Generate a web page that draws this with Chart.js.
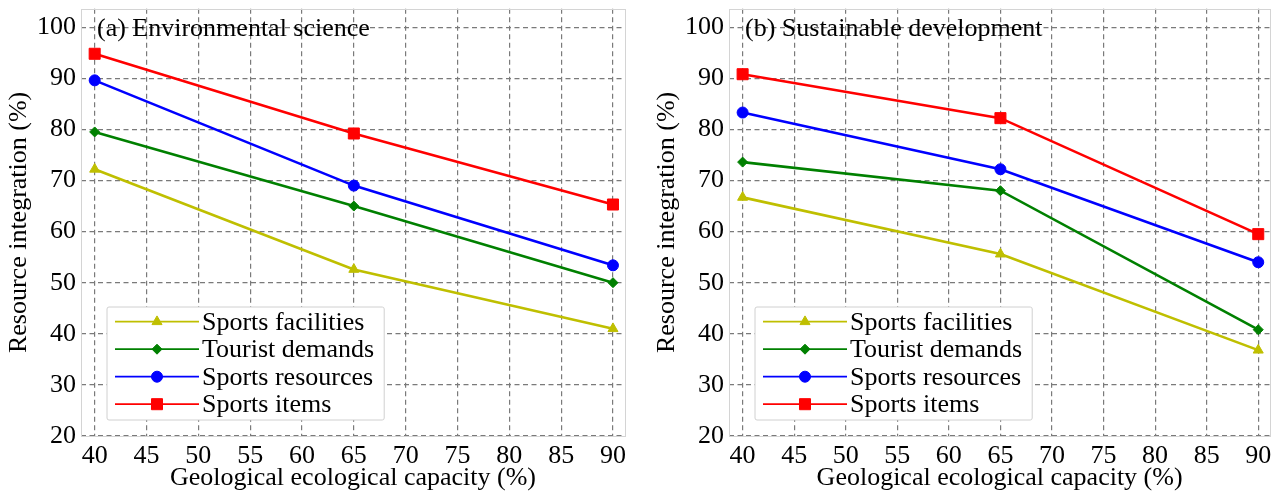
<!DOCTYPE html>
<html><head><meta charset="utf-8">
<script src="https://cdn.jsdelivr.net/npm/chart.js@4.4.1/dist/chart.umd.min.js"></script>
<style>
html,body{margin:0;padding:0;background:#fff;}
#wrap{position:relative;width:1279px;height:500px;overflow:hidden;background:#fff;}
canvas{position:absolute;top:0;}
</style></head><body>
<div id="wrap">
<canvas id="c1" width="640" height="500" style="left:0px"></canvas>
<canvas id="c2" width="631" height="500" style="left:648px"></canvas>
</div>
<script>
// ---- data ----
const xCapacity = [40, 65, 90];
const xTicks = [40, 45, 50, 55, 60, 65, 70, 75, 80, 85, 90];
const yTicks = [20, 30, 40, 50, 60, 70, 80, 90, 100];
const seriesNames = ['Sports facilities', 'Tourist demands', 'Sports resources', 'Sports items'];
const envFacilities = [72.2, 52.6, 41.0];
const envDemands    = [79.5, 65.0, 50.0];
const envResources  = [89.6, 69.0, 53.4];
const envItems      = [94.8, 79.2, 65.3];
const susFacilities = [66.7, 55.6, 36.8];
const susDemands    = [73.6, 68.0, 40.8];
const susResources  = [83.3, 72.2, 54.0];
const susItems      = [90.8, 82.2, 59.5];
const panelTitles = ['(a) Environmental science', '(b) Sustainable development'];
const xAxisTitle = 'Geological ecological capacity (%)';
const yAxisTitle = 'Resource integration (%)';

// ---- style ----
const FONT = "'Liberation Serif', 'Times New Roman', serif";
const colors = ['#bfbf00', '#008000', '#0000ff', '#ff0000'];
const pStyles = ['triangle', 'rectRot', 'circle', 'rect'];
const pRadii = [5.8, 5, 5.5, 7.8];

function drawMarker(ctx, style, x, y, r, color) {
  ctx.save();
  ctx.fillStyle = color; ctx.strokeStyle = color; ctx.lineWidth = 1;
  ctx.beginPath();
  if (style === 'circle') {
    ctx.arc(x, y, r, 0, Math.PI * 2);
  } else if (style === 'triangle') {
    for (let k = 0; k < 3; k++) {
      const a = k * 2 * Math.PI / 3;
      const px = x + Math.sin(a) * r, py = y - Math.cos(a) * r;
      if (k === 0) ctx.moveTo(px, py); else ctx.lineTo(px, py);
    }
    ctx.closePath();
  } else if (style === 'rectRot') {
    ctx.moveTo(x, y - r); ctx.lineTo(x + r, y); ctx.lineTo(x, y + r); ctx.lineTo(x - r, y); ctx.closePath();
  } else {
    const s = Math.SQRT1_2 * r;
    ctx.rect(x - s, y - s, 2 * s, 2 * s);
  }
  ctx.fill(); ctx.stroke();
  ctx.restore();
}

function panelPlugin(titleText) {
  return {
    id: 'panelDeco',
    afterDatasetsDraw(chart) {
      const ctx = chart.ctx, a = chart.chartArea;
      // legend
      ctx.save();
      ctx.font = '26px ' + FONT;
      let maxW = 0;
      chart.data.datasets.forEach(d => { maxW = Math.max(maxW, ctx.measureText(d.label).width); });
      const bx = a.left + 26, bw = 95 + maxW + 10;
      const bh = 113, by = a.bottom - 16 - bh;
      ctx.beginPath();
      if (ctx.roundRect) ctx.roundRect(bx, by, bw, bh, 2); else ctx.rect(bx, by, bw, bh);
      ctx.fillStyle = '#ffffff'; ctx.fill();
      ctx.strokeStyle = '#d0d0d0'; ctx.lineWidth = 1; ctx.stroke();
      chart.data.datasets.forEach((d, i) => {
        const cy = by + 14.7 + i * 27.5;
        ctx.beginPath();
        ctx.strokeStyle = d.borderColor; ctx.lineWidth = 1.8;
        ctx.moveTo(bx + 8, cy); ctx.lineTo(bx + 92, cy); ctx.stroke();
        drawMarker(ctx, d.pointStyle, bx + 50, cy, d.pointRadius, d.borderColor);
        ctx.fillStyle = '#000'; ctx.textBaseline = 'middle'; ctx.textAlign = 'left';
        ctx.fillText(d.label, bx + 95, cy + 1);
      });
      // panel title
      ctx.fillStyle = '#000'; ctx.textBaseline = 'middle'; ctx.textAlign = 'left';
      ctx.fillText(titleText, a.left + 16, a.top + 20);
      ctx.restore();
    },
    afterDraw(chart) {
      const ctx = chart.ctx, a = chart.chartArea;
      ctx.save();
      ctx.strokeStyle = '#d4d4d4'; ctx.lineWidth = 1;
      ctx.strokeRect(Math.round(a.left) + 0.5, Math.round(a.top) + 0.5, Math.round(a.right - a.left), Math.round(a.bottom - a.top));
      ctx.restore();
    }
  };
}

function makeChart(id, seriesData, titleText, padRight) {
  return new Chart(document.getElementById(id), {
    type: 'line',
    data: {
      datasets: seriesNames.map((n, i) => ({
        label: n,
        data: xCapacity.map((x, j) => ({ x: x, y: seriesData[i][j] })),
        borderColor: colors[i], backgroundColor: colors[i],
        pointBackgroundColor: colors[i], pointBorderColor: colors[i],
        pointStyle: pStyles[i], pointRadius: pRadii[i], pointHoverRadius: pRadii[i],
        pointBorderWidth: 1, borderWidth: 2.6, tension: 0, fill: false, clip: false
      }))
    },
    options: {
      responsive: false, animation: false, devicePixelRatio: 1, events: [],
      layout: { padding: { left: 0, top: 6, right: padRight, bottom: 0 } },
      plugins: { legend: { display: false }, tooltip: { enabled: false }, title: { display: false } },
      scales: {
        x: {
          type: 'linear', min: 38.68, max: 91.16,
          afterBuildTicks: s => { s.ticks = xTicks.map(v => ({ value: v })); },
          afterFit: s => { s.height = 64; s.paddingLeft = 0; s.paddingRight = 0; },
          ticks: { color: '#000', font: { family: FONT, size: 26 }, padding: 5, maxRotation: 0, autoSkip: false },
          grid: { color: '#7a7a7a', lineWidth: 1.2, drawTicks: false },
          border: { display: false, dash: [5, 3.5] },
          title: { display: true, text: xAxisTitle, color: '#000', font: { family: FONT, size: 26 }, padding: { top: 0, bottom: 6 } }
        },
        y: {
          type: 'linear', min: 20, max: 103.6,
          afterBuildTicks: s => { s.ticks = yTicks.map(v => ({ value: v })); },
          afterFit: s => { s.width = 81; s.paddingTop = 0; s.paddingBottom = 0; },
          ticks: { color: '#000', font: { family: FONT, size: 26 }, padding: 5, autoSkip: false },
          grid: { color: '#7a7a7a', lineWidth: 1.2, drawTicks: false },
          border: { display: false, dash: [5, 3.5] },
          title: { display: true, text: yAxisTitle, color: '#000', font: { family: FONT, size: 26 }, padding: { top: 4, bottom: 0 } }
        }
      }
    },
    plugins: [panelPlugin(titleText)]
  });
}

makeChart('c1', [envFacilities, envDemands, envResources, envItems], panelTitles[0], 15);
makeChart('c2', [susFacilities, susDemands, susResources, susItems], panelTitles[1], 7);
</script>
</body></html>
